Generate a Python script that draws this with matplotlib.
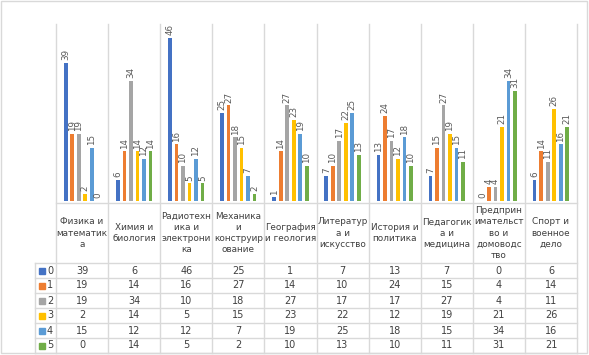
import matplotlib
matplotlib.use("agg")
import matplotlib.pyplot as plt
import numpy as np

categories = ["Физика и\nматематик\nа", "Химия и\nбиология", "Радиотехн\nика и\nэлектрони\nка",
              "Механика\nи\nконструир\nование", "География\nи геология", "Литератур\nа и\nискусство",
              "История и\nполитика", "Педагогик\nа и\nмедицина", "Предприн\nимательст\nво и\nдомоводс\nтво",
              "Спорт и\nвоенное\nдело"]
series_names = ["0", "1", "2", "3", "4", "5"]
s0 = [39, 6, 46, 25, 1, 7, 13, 7, 0, 6]
s1 = [19, 14, 16, 27, 14, 10, 24, 15, 4, 14]
s2 = [19, 34, 10, 18, 27, 17, 17, 27, 4, 11]
s3 = [2, 14, 5, 15, 23, 22, 12, 19, 21, 26]
s4 = [15, 12, 12, 7, 19, 25, 18, 15, 34, 16]
s5 = [0, 14, 5, 2, 10, 13, 10, 11, 31, 21]
series = [s0, s1, s2, s3, s4, s5]
colors = ["#4472C4", "#ED7D31", "#A5A5A5", "#FFC000", "#5B9BD5", "#70AD47"]

W, H = 589, 355
fig = plt.figure(figsize=(W / 100, H / 100), dpi=100)

# layout in pixels
x_left, x_right = 56, 577
y_top, y_base = 24, 201
head_top, head_bot = 203, 263
row_h = 15
lab_left = 35
grid_c = "#D9D9D9"
txt_c = "#404040"

n = len(categories)
ax = fig.add_axes([x_left / W, 1 - y_base / H, (x_right - x_left) / W, (y_base - y_top) / H])
x = np.arange(n)
slot = 0.125
bw = 0.07
for i, vals in enumerate(series):
    pos = x + (i - 2.5) * slot
    ax.bar(pos, vals, width=bw, color=colors[i], zorder=3)
    for p, v in zip(pos, vals):
        ax.annotate(str(v), (p, v), xytext=(0, 2), textcoords="offset points",
                    rotation=90, ha="center", va="bottom", fontsize=6.3, color="#595959")
ax.set_xlim(-0.5, n - 0.5)
ax.set_ylim(0, 50)
ax.axis("off")

# overlay for table and grid lines
ov = fig.add_axes([0, 0, 1, 1])
ov.set_xlim(0, W)
ov.set_ylim(H, 0)
ov.axis("off")
ov.patch.set_alpha(0)

cw = (x_right - x_left) / n
edges = [x_left + k * cw for k in range(n + 1)]
bottom = head_bot + row_h * len(series)
for e in edges:
    ov.plot([e, e], [y_top, bottom], color=grid_c, lw=1)
ov.plot([x_left, x_right], [head_top, head_top], color=grid_c, lw=1)
ov.plot([lab_left, lab_left], [head_bot, bottom], color=grid_c, lw=1)
for r in range(len(series) + 1):
    yy = head_bot + r * row_h
    ov.plot([lab_left, x_right], [yy, yy], color=grid_c, lw=1)

for j, cat in enumerate(categories):
    ov.text(edges[j] + cw / 2, (head_top + head_bot) / 2, cat, ha="center", va="center",
            fontsize=6.4, color=txt_c, linespacing=1.3)

for i, vals in enumerate(series):
    yc = head_bot + row_h * (i + 0.5)
    ov.add_patch(plt.Rectangle((lab_left + 4, yc - 3), 6, 6, color=colors[i]))
    ov.text(lab_left + 12, yc, series_names[i], ha="left", va="center", fontsize=7, color=txt_c)
    for j, v in enumerate(vals):
        ov.text(edges[j] + cw / 2, yc, str(v), ha="center", va="center", fontsize=7, color=txt_c)

ov.add_patch(plt.Rectangle((1, 1), W - 3, H - 3, fill=False, edgecolor=grid_c, lw=1))

fig.savefig("out.png", dpi=100, facecolor="white")
